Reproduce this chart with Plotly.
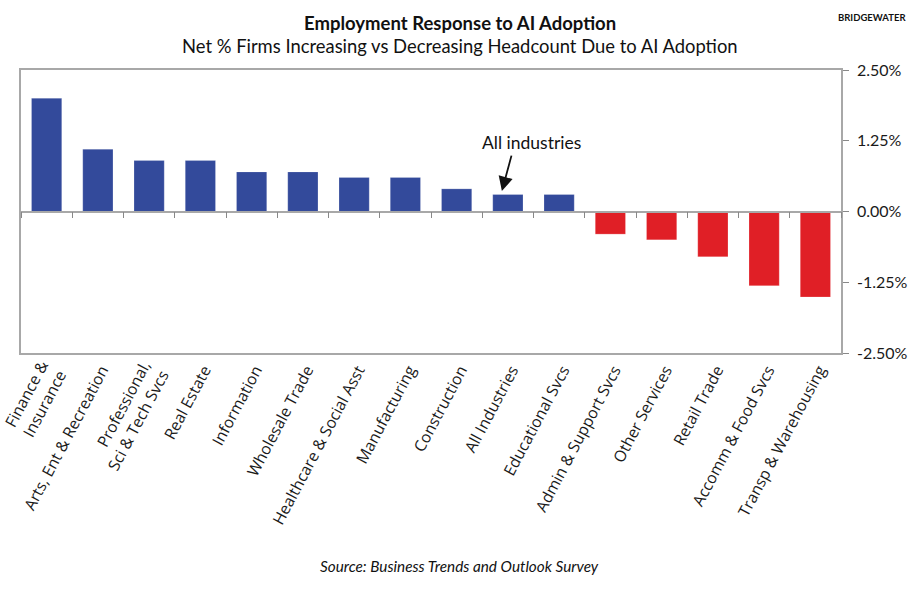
import plotly.graph_objects as go

categories = ["Finance &<br>Insurance", "Arts, Ent & Recreation", "Professional,<br>Sci & Tech Svcs",
              "Real Estate", "Information", "Wholesale Trade", "Healthcare & Social Asst",
              "Manufacturing", "Construction", "All Industries", "Educational Svcs",
              "Admin & Support Svcs", "Other Services", "Retail Trade", "Accomm & Food Svcs",
              "Transp & Warehousing"]
values = [2.0, 1.1, 0.9, 0.9, 0.7, 0.7, 0.6, 0.6, 0.4, 0.3, 0.3, -0.4, -0.5, -0.8, -1.31, -1.51]
ytickvals = [-2.5, -1.25, 0, 1.25, 2.5]
yticktext = ["-2.50%", "-1.25%", "0.00%", "1.25%", "2.50%"]

BLUE = "#334a9b"
RED = "#e01f26"
GRID = "#a8a8a8"
FONT = "Lato"
LABELFONT = "Open Sans"

colors = [BLUE if v >= 0 else RED for v in values]

fig = go.Figure()
fig.add_trace(go.Bar(x=categories, y=values, marker=dict(color=colors, line=dict(color="rgba(255,255,255,0.4)", width=0.5)),
                     width=0.59, showlegend=False, hoverinfo="skip"))
# invisible trace to carry the zero-line axis ticks
fig.add_trace(go.Scatter(x=categories, y=values, xaxis="x2", mode="markers",
                         marker=dict(opacity=0), showlegend=False, hoverinfo="skip"))

fig.update_layout(
    width=919, height=590,
    margin=dict(l=21, r=78, t=70, b=237, autoexpand=False),
    paper_bgcolor="white", plot_bgcolor="white",
    font=dict(family=FONT, color="#1a1a1a"),
    xaxis=dict(type="category", showline=True, mirror=True, linecolor=GRID, linewidth=1.5,
               ticks="", tickangle=-62, tickfont=dict(size=15.8, family=LABELFONT, color="#1a1a1a"),
               ticklabelshift=4,
               showgrid=False, zeroline=False, range=[-0.5, 15.5]),
    xaxis2=dict(type="category", overlaying="x", matches="x", anchor="free", position=0.5,
                side="bottom", showline=True, linecolor=GRID, linewidth=1.5,
                ticks="outside", tickson="boundaries", ticklen=6, tickcolor="#888", tickwidth=1,
                showticklabels=False, showgrid=False, zeroline=False),
    yaxis=dict(range=[-2.5, 2.5], side="right", showline=True, mirror=True, linecolor=GRID, linewidth=1.5,
               ticks="outside", ticklen=6, tickcolor="#888", tickvals=ytickvals, ticktext=yticktext,
               ticklabelstandoff=5,
               tickfont=dict(size=16, family=FONT, color="#1a1a1a"), showgrid=False, zeroline=False),
    bargap=0.41,
)

annotations = [
    dict(text="<b>Employment Response to AI Adoption</b>", xref="paper", yref="paper",
         x=0.535, y=1.165, xanchor="center", yanchor="middle", showarrow=False,
         font=dict(size=18.5, family=FONT, color="#111")),
    dict(text="Net % Firms Increasing vs Decreasing Headcount Due to AI Adoption", xref="paper", yref="paper",
         x=0.535, y=1.085, xanchor="center", yanchor="middle", showarrow=False,
         font=dict(size=18.4, family=FONT, color="#111")),
    dict(text="<b>BRIDGEWATER</b>", xref="paper", yref="paper", x=1.0817, y=1.187,
         xanchor="right", yanchor="middle", showarrow=False, font=dict(size=9.5, family=FONT, color="#111")),
    dict(text="<i>Source: Business Trends and Outlook Survey</i>", xref="paper", yref="paper",
         x=0.535, y=-0.753, xanchor="center", yanchor="middle", showarrow=False,
         font=dict(size=15.3, family=FONT, color="#111")),
    dict(text="All industries", xref="x", yref="y", x=9, y=1.22, xshift=24,
         xanchor="center", yanchor="middle", showarrow=False, font=dict(size=17.5, family=FONT, color="#111")),
    dict(text="", xref="x", yref="y", x=9, y=0.36, xshift=-6, showarrow=True,
         ax=10, ay=-37, arrowhead=2, arrowsize=1.6, arrowwidth=1.8, arrowcolor="#111"),
]
fig.update_layout(annotations=annotations)

fig.write_html("out.html")
